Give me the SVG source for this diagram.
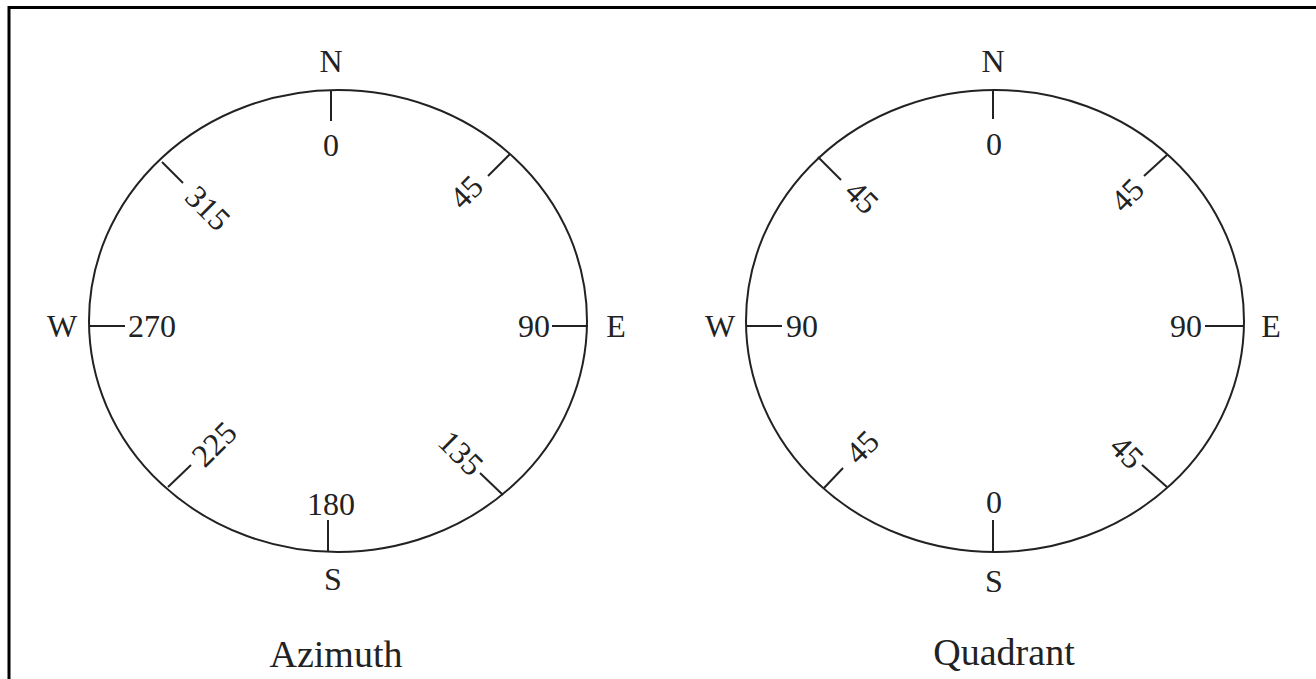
<svg xmlns="http://www.w3.org/2000/svg" width="1316" height="679" viewBox="0 0 1316 679">
<style>
.bg{fill:#fff}
.frame{fill:none;stroke:#000;stroke-width:3}
.dial{fill:none;stroke:#222;stroke-width:2}
.tick{stroke:#222;stroke-width:2}
.lbl{font-family:"Liberation Serif","Times New Roman",serif;font-size:32px;fill:#222;text-anchor:middle}
.ttl{font-family:"Liberation Serif","Times New Roman",serif;font-size:38px;fill:#222;text-anchor:middle}
</style>
<rect class="bg" x="0" y="0" width="1316" height="679"/>
<path class="frame" d="M9,679 V7.5 H1316"/>

<g id="azimuth">
  <ellipse class="dial" cx="338" cy="321" rx="249" ry="231"/>
  <g id="azimuth-ticks">
    <line class="tick" x1="331" y1="90" x2="331" y2="121"/>
    <line class="tick" x1="328" y1="520" x2="328" y2="552"/>
    <line class="tick" x1="90" y1="326" x2="125" y2="326"/>
    <line class="tick" x1="552" y1="326" x2="588" y2="326"/>
    <line class="tick" x1="510" y1="154" x2="488" y2="176"/>
    <line class="tick" x1="162" y1="162" x2="183" y2="183"/>
    <line class="tick" x1="168" y1="487" x2="191" y2="465"/>
    <line class="tick" x1="503" y1="495" x2="480" y2="473"/>
  </g>
  <text class="lbl" x="331" y="72">N</text>
  <text class="lbl" x="331" y="156">0</text>
  <text class="lbl" x="62" y="337">W</text>
  <text class="lbl" x="152" y="337">270</text>
  <text class="lbl" x="534" y="337">90</text>
  <text class="lbl" x="616" y="337">E</text>
  <text class="lbl" x="331" y="515">180</text>
  <text class="lbl" x="333" y="590">S</text>
  <text class="lbl" transform="translate(208,208) rotate(45)" y="11">315</text>
  <text class="lbl" transform="translate(466,192) rotate(-45)" y="11">45</text>
  <text class="lbl" transform="translate(214,444) rotate(-45)" y="11">225</text>
  <text class="lbl" transform="translate(461,453) rotate(45)" y="11">135</text>
  <text class="ttl" x="336" y="667">Azimuth</text>
</g>

<g id="quadrant">
  <ellipse class="dial" cx="995" cy="321" rx="249" ry="231"/>
  <g id="quadrant-ticks">
    <line class="tick" x1="993" y1="90" x2="993" y2="119"/>
    <line class="tick" x1="993" y1="520" x2="993" y2="552"/>
    <line class="tick" x1="746" y1="326" x2="782" y2="326"/>
    <line class="tick" x1="1205" y1="326" x2="1244" y2="326"/>
    <line class="tick" x1="1167" y1="155" x2="1144" y2="176"/>
    <line class="tick" x1="818" y1="157" x2="841" y2="180"/>
    <line class="tick" x1="824" y1="488" x2="843" y2="468"/>
    <line class="tick" x1="1167" y1="487" x2="1142" y2="465"/>
  </g>
  <text class="lbl" x="993" y="72">N</text>
  <text class="lbl" x="994" y="155">0</text>
  <text class="lbl" x="720" y="337">W</text>
  <text class="lbl" x="802" y="337">90</text>
  <text class="lbl" x="1186" y="337">90</text>
  <text class="lbl" x="1271" y="337">E</text>
  <text class="lbl" x="994" y="513">0</text>
  <text class="lbl" x="994" y="592">S</text>
  <text class="lbl" transform="translate(862,197) rotate(45)" y="11">45</text>
  <text class="lbl" transform="translate(1127,195) rotate(-45)" y="11">45</text>
  <text class="lbl" transform="translate(862,447) rotate(-45)" y="11">45</text>
  <text class="lbl" transform="translate(1127,452) rotate(45)" y="11">45</text>
  <text class="ttl" x="1004" y="665">Quadrant</text>
</g>
</svg>
